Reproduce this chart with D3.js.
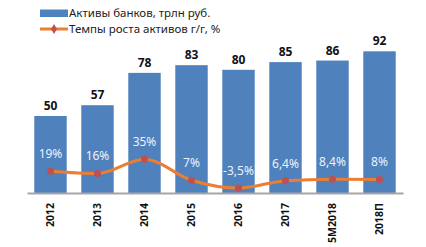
<!DOCTYPE html>
<html>
<head>
<meta charset="utf-8">
<script src="https://cdn.jsdelivr.net/npm/d3@7"></script>
<style>
  body { margin: 0; background: #fff; }
  svg { font-family: 'Noto Sans', sans-serif; }
</style>
</head>
<body>
<svg id="chart" width="426" height="247"></svg>
<script>
const years = ['2012', '2013', '2014', '2015', '2016', '2017', '5M2018', '2018П'];
const assets = [50, 57, 78, 83, 80, 85, 86, 92];
const growth = [19, 16, 35, 7, -3.5, 6.4, 8.4, 8];
const growthLabels = ['19%', '16%', '35%', '7%', '-3,5%', '6,4%', '8,4%', '8%'];

const barLabel = 'Активы банков, трлн руб.';
const lineLabel = 'Темпы роста активов  г/г, %';

const barColor = '#4f81bd';
const lineColor = '#ed7d31';
const markColor = '#c0504d';

const svg = d3.select('#chart');

const xScale = d3.scaleBand()
  .domain(years)
  .range([27, 403])
  .paddingInner(0.31)
  .paddingOuter(0.155);

const yScale = d3.scaleLinear()
  .domain([0, 100])
  .range([193, 39]);

const y2Scale = d3.scaleLinear()
  .domain([-10, 200])
  .range([193, 35]);

// bars
svg.append('g')
  .selectAll('rect')
  .data(assets)
  .enter().append('rect')
    .attr('x', (d, i) => xScale(years[i]))
    .attr('y', d => yScale(d))
    .attr('width', xScale.bandwidth())
    .attr('height', d => yScale(0) - yScale(d))
    .attr('fill', barColor);

// bar value labels
svg.append('g')
  .selectAll('text')
  .data(assets)
  .enter().append('text')
    .attr('x', (d, i) => xScale(years[i]) + xScale.bandwidth() / 2)
    .attr('y', d => yScale(d) - 6)
    .attr('text-anchor', 'middle')
    .style('font-size', '12px')
    .style('font-weight', 'bold')
    .attr('fill', '#111')
    .text(d => d);

// x axis
const xAxis = d3.axisBottom(xScale).tickSize(0).tickPadding(10);
const xAxisG = svg.append('g')
  .attr('transform', 'translate(0,193)')
  .call(xAxis);
xAxisG.select('.domain')
  .attr('stroke', '#a6a6a6')
  .attr('stroke-width', 2);
xAxisG.selectAll('text')
  .attr('transform', 'rotate(-90)')
  .attr('x', -10)
  .attr('y', 0)
  .attr('dy', '0.35em')
  .attr('text-anchor', 'end')
  .style('font-size', '10.5px')
  .style('font-weight', 'bold')
  .style('font-family', "'Noto Sans', sans-serif")
  .attr('fill', '#111');

// growth line
const line = d3.line()
  .x((d, i) => xScale(years[i]) + xScale.bandwidth() / 2)
  .y(d => y2Scale(d))
  .curve(d3.curveMonotoneX);

svg.append('path')
  .datum(growth)
  .attr('d', line)
  .attr('fill', 'none')
  .attr('stroke', lineColor)
  .attr('stroke-width', 3);

svg.append('g')
  .selectAll('circle')
  .data(growth)
  .enter().append('circle')
    .attr('cx', (d, i) => xScale(years[i]) + xScale.bandwidth() / 2)
    .attr('cy', d => y2Scale(d))
    .attr('r', 3.5)
    .attr('fill', markColor);

svg.append('g')
  .selectAll('text')
  .data(growth)
  .enter().append('text')
    .attr('x', (d, i) => xScale(years[i]) + xScale.bandwidth() / 2)
    .attr('y', d => y2Scale(d) - 13)
    .attr('text-anchor', 'middle')
    .style('font-size', '12px')
    .attr('fill', '#eef3fa')
    .text((d, i) => growthLabels[i]);

// legend
const legend = svg.append('g');
legend.append('rect')
  .attr('x', 40).attr('y', 9.5)
  .attr('width', 28).attr('height', 7.5)
  .attr('fill', barColor);
legend.append('text')
  .attr('x', 69).attr('y', 13)
  .attr('dy', '0.35em')
  .style('font-size', '11.5px')
  .attr('fill', '#222')
  .text(barLabel);
legend.append('line')
  .attr('x1', 40).attr('x2', 68)
  .attr('y1', 29).attr('y2', 29)
  .attr('stroke', lineColor)
  .attr('stroke-width', 3);
legend.append('path')
  .attr('d', d3.symbol(d3.symbolDiamond, 30)())
  .attr('transform', 'translate(54,29)')
  .attr('fill', markColor);
legend.append('text')
  .attr('x', 69).attr('y', 29)
  .attr('dy', '0.35em')
  .style('font-size', '11.5px')
  .attr('fill', '#222')
  .text(lineLabel);
</script>
</body>
</html>
